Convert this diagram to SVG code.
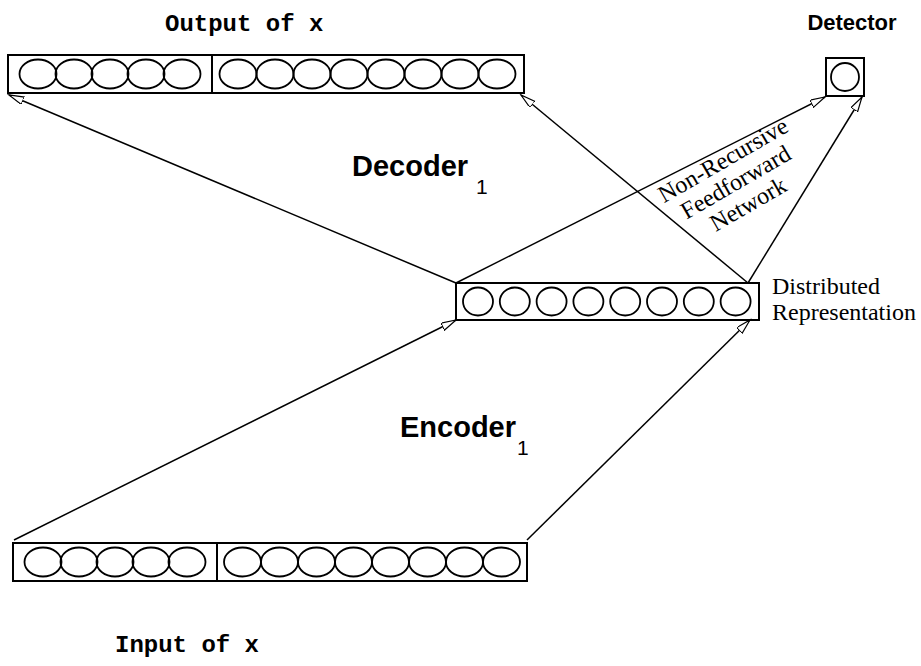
<svg xmlns="http://www.w3.org/2000/svg" width="921" height="666" viewBox="0 0 921 666">
  <style>
    .box { fill: none; stroke: #000; stroke-width: 2; }
    .unit { fill: none; stroke: #000; stroke-width: 1.8; }
    .link { fill: none; stroke: #000; stroke-width: 1.5; marker-end: url(#head); }
    .mono { font-family: "Liberation Mono", "Courier New", monospace; font-weight: bold; font-size: 24px; }
    .title { font-family: "Liberation Sans", Arial, sans-serif; font-weight: bold; }
    .sub { font-family: "Liberation Sans", Arial, sans-serif; font-size: 21px; }
    .serif { font-family: "Liberation Serif", "Times New Roman", serif; font-size: 24px; }
  </style>
  <defs>
    <marker id="head" markerUnits="userSpaceOnUse" markerWidth="18" markerHeight="10" refX="15" refY="4" orient="auto">
      <path d="M0,0 L15,4 L0,8 Z" fill="#fff" stroke="#000" stroke-width="1.2"/>
    </marker>
    <ellipse id="u" rx="18.5" ry="14.5" class="unit"/>
    <ellipse id="m" rx="15" ry="14" class="unit"/>
  </defs>

  <rect width="921" height="666" fill="#fff"/>

  <!-- connectors -->
  <g id="connectors">
    <line class="link" x1="456" y1="283" x2="9" y2="95"/>
    <line class="link" x1="456" y1="283" x2="825" y2="97"/>
    <line class="link" x1="748" y1="283" x2="521" y2="95"/>
    <line class="link" x1="748" y1="283" x2="862" y2="97"/>
    <line class="link" x1="14" y1="540" x2="456" y2="320"/>
    <line class="link" x1="527" y1="540" x2="750" y2="320"/>
  </g>

  <!-- output layer -->
  <g id="output-layer">
    <rect class="box" x="8" y="55" width="516" height="38"/>
    <line class="box" x1="212" y1="55" x2="212" y2="93"/>
    <use href="#u" x="38" y="74"/>
    <use href="#u" x="74" y="74"/>
    <use href="#u" x="110" y="74"/>
    <use href="#u" x="146" y="74"/>
    <use href="#u" x="182" y="74"/>
    <use href="#u" x="238" y="74"/>
    <use href="#u" x="275" y="74"/>
    <use href="#u" x="312" y="74"/>
    <use href="#u" x="349" y="74"/>
    <use href="#u" x="386" y="74"/>
    <use href="#u" x="423" y="74"/>
    <use href="#u" x="460" y="74"/>
    <use href="#u" x="497" y="74"/>
    <text class="mono" x="165" y="31">Output of x</text>
  </g>

  <!-- input layer -->
  <g id="input-layer">
    <rect class="box" x="13" y="543" width="514" height="38"/>
    <line class="box" x1="217" y1="543" x2="217" y2="581"/>
    <use href="#u" x="43" y="562"/>
    <use href="#u" x="79" y="562"/>
    <use href="#u" x="115" y="562"/>
    <use href="#u" x="151" y="562"/>
    <use href="#u" x="187" y="562"/>
    <use href="#u" x="242.5" y="562"/>
    <use href="#u" x="279.5" y="562"/>
    <use href="#u" x="316.5" y="562"/>
    <use href="#u" x="353.5" y="562"/>
    <use href="#u" x="390.5" y="562"/>
    <use href="#u" x="427.5" y="562"/>
    <use href="#u" x="464.5" y="562"/>
    <use href="#u" x="501.5" y="562"/>
    <text class="mono" x="115" y="652">Input of x</text>
  </g>

  <!-- hidden layer -->
  <g id="representation">
    <rect class="box" x="456" y="283" width="303" height="37"/>
    <use href="#m" x="478" y="301.5"/>
    <use href="#m" x="514.8" y="301.5"/>
    <use href="#m" x="551.6" y="301.5"/>
    <use href="#m" x="588.4" y="301.5"/>
    <use href="#m" x="625.2" y="301.5"/>
    <use href="#m" x="662" y="301.5"/>
    <use href="#m" x="698.8" y="301.5"/>
    <use href="#m" x="735.6" y="301.5"/>
    <text class="serif" x="772" y="294">Distributed</text>
    <text class="serif" x="772" y="320">Representation</text>
  </g>

  <!-- detector unit -->
  <g id="detector">
    <rect class="box" x="826" y="58" width="38" height="38"/>
    <circle cx="845" cy="77" r="14" class="unit"/>
    <text class="title" x="852" y="30" font-size="22" text-anchor="middle">Detector</text>
  </g>

  <!-- labels -->
  <g id="decoder-label">
    <text class="title" x="352" y="176" font-size="29">Decoder</text>
    <text class="sub" x="476" y="194">1</text>
  </g>
  <g id="encoder-label">
    <text class="title" x="400" y="437" font-size="29">Encoder</text>
    <text class="sub" x="517" y="455">1</text>
  </g>
  <g id="network-label" class="serif" text-anchor="middle" font-size="25">
    <text transform="translate(727,167) rotate(-30)">Non-Recursive</text>
    <text transform="translate(739.5,189) rotate(-30)">Feedforward</text>
    <text transform="translate(752,211) rotate(-30)">Network</text>
  </g>
</svg>
